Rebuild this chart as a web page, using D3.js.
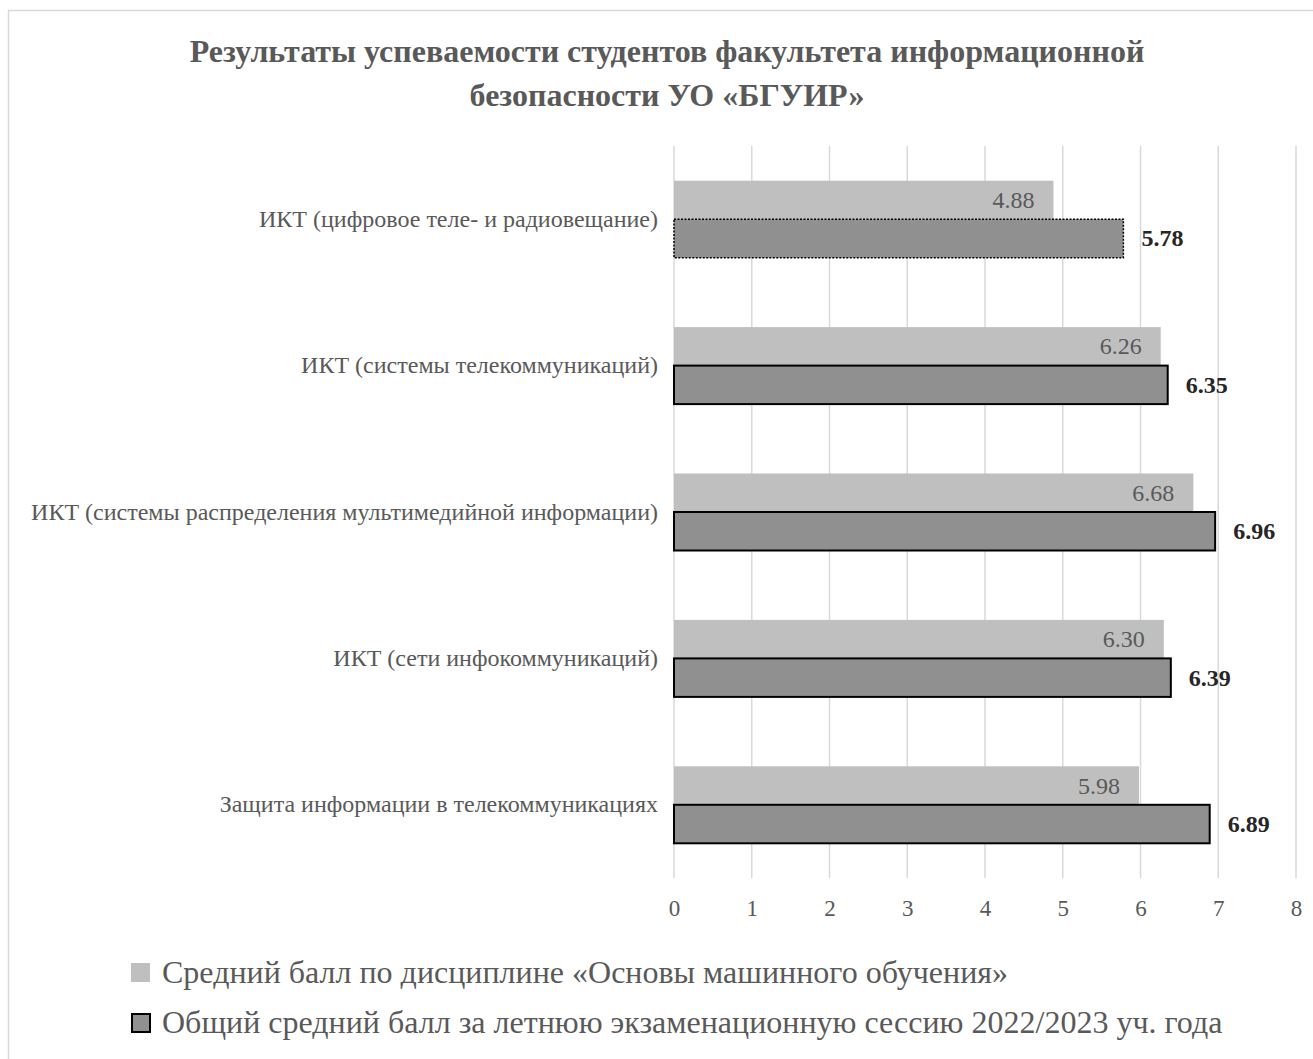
<!DOCTYPE html>
<html>
<head>
<meta charset="utf-8">
<script src="https://cdn.jsdelivr.net/npm/d3@7"></script>
<style>
  body { margin: 0; background: #fff; }
</style>
</head>
<body>
<div id="viz"></div>
<script>
// categories, top to bottom
var categories = [
  "ИКТ (цифровое теле- и радиовещание)",
  "ИКТ (системы телекоммуникаций)",
  "ИКТ (системы распределения мультимедийной информации)",
  "ИКТ (сети инфокоммуникаций)",
  "Защита информации в телекоммуникациях"
];
var mlScores = [4.88, 6.26, 6.68, 6.30, 5.98];
var sessionScores = [5.78, 6.35, 6.96, 6.39, 6.89];
var seriesNames = [
  "Средний балл по дисциплине «Основы машинного обучения»",
  "Общий средний балл за летнюю экзаменационную сессию 2022/2023 уч. года"
];
var xTicks = [0, 1, 2, 3, 4, 5, 6, 7, 8];
var titleLines = [
  "Результаты успеваемости студентов факультета информационной",
  "безопасности УО «БГУИР»"
];

var FONT = "'Liberation Serif', 'Times New Roman', serif";
var W = 1313, H = 1059;
var plotLeft = 674, plotRight = 1296, plotTop = 146, plotBottom = 878;

var svg = d3.select("#viz").append("svg")
  .attr("width", W)
  .attr("height", H)
  .style("display", "block")
  .style("font-family", FONT);

// outer frame
svg.append("rect")
  .attr("x", 8.5).attr("y", 10.5)
  .attr("width", W + 20).attr("height", H + 20)
  .attr("fill", "none")
  .attr("stroke", "#d9d9d9")
  .attr("stroke-width", 1.5);

// title
svg.append("g").selectAll("text")
  .data(titleLines)
  .enter().append("text")
  .attr("x", 667)
  .attr("y", function(d, i) { return 62 + i * 44; })
  .attr("text-anchor", "middle")
  .style("font-family", FONT)
  .style("font-size", "32px")
  .style("font-weight", "bold")
  .attr("fill", "#595959")
  .text(function(d) { return d; });

var x = d3.scaleLinear().domain([0, 8]).range([plotLeft, plotRight]);
var y = d3.scaleBand().domain(categories).range([plotTop, plotBottom])
  .paddingInner(0.474).paddingOuter(0.237);
var sub = d3.scaleBand().domain([0, 1]).range([0, y.bandwidth()]);

// gridlines
svg.append("g").selectAll("line")
  .data(xTicks)
  .enter().append("line")
  .attr("x1", function(d) { return x(d); })
  .attr("x2", function(d) { return x(d); })
  .attr("y1", plotTop)
  .attr("y2", plotBottom)
  .attr("stroke", "#d9d9d9")
  .attr("stroke-width", 1.5);

// x axis labels
var xAxis = d3.axisBottom(x).tickValues(xTicks).tickSize(0).tickPadding(0);
var gx = svg.append("g")
  .attr("transform", "translate(0," + (plotBottom + 22) + ")")
  .call(xAxis);
gx.select(".domain").remove();
gx.selectAll("text")
  .style("font-family", FONT)
  .style("font-size", "23px")
  .attr("fill", "#595959");

// category labels
var yAxis = d3.axisLeft(y).tickSize(0).tickPadding(16);
var gy = svg.append("g")
  .attr("transform", "translate(" + plotLeft + ",0)")
  .call(yAxis);
gy.select(".domain").remove();
gy.selectAll("text")
  .style("font-family", FONT)
  .style("font-size", "24px")
  .attr("fill", "#595959");

var rows = categories.map(function(c, i) {
  return { cat: c, ml: mlScores[i], ses: sessionScores[i], i: i };
});

// light bars
svg.append("g").selectAll("rect")
  .data(rows)
  .enter().append("rect")
  .attr("x", x(0))
  .attr("y", function(d) { return y(d.cat) + sub(0); })
  .attr("width", function(d) { return x(d.ml) - x(0); })
  .attr("height", sub.bandwidth())
  .attr("fill", "#bfbfbf");

// dark bars
svg.append("g").selectAll("rect")
  .data(rows)
  .enter().append("rect")
  .attr("x", x(0))
  .attr("y", function(d) { return y(d.cat) + sub(1); })
  .attr("width", function(d) { return x(d.ses) - x(0); })
  .attr("height", sub.bandwidth())
  .attr("fill", "#909090")
  .attr("stroke", "#000")
  .attr("stroke-width", function(d) { return d.i == 0 ? 1.5 : 2; })
  .attr("stroke-dasharray", function(d) { return d.i == 0 ? "2,1.5" : null; });

// value labels
svg.append("g").selectAll("text")
  .data(rows)
  .enter().append("text")
  .attr("x", function(d) { return x(d.ml) - 19; })
  .attr("y", function(d) { return y(d.cat) + sub(0) + sub.bandwidth() / 2 + 8; })
  .attr("text-anchor", "end")
  .style("font-family", FONT)
  .style("font-size", "24px")
  .attr("fill", "#595959")
  .text(function(d) { return d.ml.toFixed(2); });

svg.append("g").selectAll("text")
  .data(rows)
  .enter().append("text")
  .attr("x", function(d) { return x(d.ses) + 18; })
  .attr("y", function(d) { return y(d.cat) + sub(1) + sub.bandwidth() / 2 + 8; })
  .style("font-family", FONT)
  .style("font-size", "24px")
  .style("font-weight", "bold")
  .attr("fill", "#262626")
  .text(function(d) { return d.ses.toFixed(2); });

// legend
var legend = svg.append("g").selectAll("g")
  .data(seriesNames)
  .enter().append("g")
  .attr("transform", function(d, i) { return "translate(131," + (963 + i * 50) + ")"; });
legend.append("rect")
  .attr("x", function(d, i) { return i == 0 ? 0 : 1; })
  .attr("y", function(d, i) { return i == 0 ? 0 : 1; })
  .attr("width", function(d, i) { return i == 0 ? 19 : 18; })
  .attr("height", function(d, i) { return i == 0 ? 19 : 18; })
  .attr("fill", function(d, i) { return i == 0 ? "#bfbfbf" : "#909090"; })
  .attr("stroke", function(d, i) { return i == 0 ? "none" : "#000"; })
  .attr("stroke-width", 2);
legend.append("text")
  .attr("x", 31)
  .attr("y", 20)
  .style("font-family", FONT)
  .style("font-size", "32px")
  .attr("fill", "#595959")
  .text(function(d) { return d; });
</script>
</body>
</html>
